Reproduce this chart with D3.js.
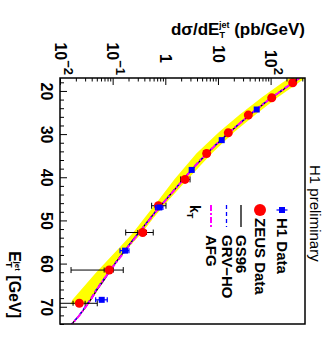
<!DOCTYPE html>
<html>
<head>
<meta charset="utf-8">
<script src="https://cdn.jsdelivr.net/npm/d3@7"></script>
<style>
  body { margin: 0; background: #fff; }
  text { font-family: "Liberation Sans", Arial, sans-serif; fill: #000; }
</style>
</head>
<body>
<div id="chart"></div>
<script>
// E_T grid of the theory curves (GeV)
const curveEt = [17, 18, 20, 22, 24, 26, 28, 30, 32, 34, 36, 38, 40, 42, 44, 46, 48, 50, 52, 54, 56, 58, 60, 62, 64, 66, 68, 70, 72, 74];
const gs96 = [360, 272, 160, 94, 58, 36.5, 23.5, 15.2, 10.1, 6.85, 4.75, 3.3, 2.4, 1.73, 1.25, 0.9, 0.65, 0.48, 0.355, 0.262, 0.195, 0.147, 0.111, 0.086, 0.067, 0.051, 0.040, 0.031, 0.0233, 0.0168];
const grvHo = [350, 265, 155, 91, 56.5, 35.6, 23.0, 14.8, 9.8, 6.7, 4.6, 3.25, 2.36, 1.71, 1.24, 0.90, 0.65, 0.48, 0.357, 0.265, 0.197, 0.149, 0.110, 0.083, 0.064, 0.049, 0.039, 0.030, 0.023, 0.0167];
const afg = [355, 269, 158, 93, 57.5, 36.3, 23.4, 15.1, 10.0, 6.8, 4.7, 3.3, 2.4, 1.74, 1.26, 0.91, 0.66, 0.49, 0.363, 0.269, 0.20, 0.151, 0.112, 0.085, 0.065, 0.050, 0.040, 0.031, 0.0234, 0.017];

// yellow uncertainty band
const bandEt = [17, 18.1, 21.5, 25.5, 29.5, 34.5, 40.5, 45.3, 49.5, 53, 56.3, 62, 68.3, 69.4];
const bandLo = [229, 166, 67.6, 25.7, 10.5, 3.89, 1.48, 0.741, 0.398, 0.240, 0.135, 0.049, 0.0174, 0.0158];
const bandHi = [457, 339, 135, 51.3, 20.4, 7.59, 2.63, 1.15, 0.589, 0.355, 0.20, 0.085, 0.040, 0.0355];

// ZEUS data
const zeusEt = [18.1, 21.6, 25.6, 29.7, 34.5, 40.5, 46.6, 52.8, 61.5, 69.2];
const zeusVal = [263, 105, 37.7, 15.7, 6.1, 2.37, 0.74, 0.372, 0.086, 0.0233];
const zeusStatLo = [258, 103, 37, 15.3, 5.9, 2.25, 0.68, 0.30, 0.069, 0.0177];
const zeusStatHi = [268, 107, 38.4, 16.1, 6.3, 2.5, 0.80, 0.44, 0.103, 0.030];
const zeusTotLo = [245, 97, 34.5, 14.2, 5.4, 1.96, 0.55, 0.177, 0.0162, 0.004];
const zeusTotHi = [281, 113, 41, 17.2, 6.8, 2.95, 1.03, 0.59, 0.159, 0.051];

// H1 data
const h1Et = [24.3, 31.4, 38.3, 47.0, 57.0, 68.4];
const h1Val = [54.5, 11.8, 3.17, 0.77, 0.172, 0.062];
const h1Lo = [51, 11.0, 2.9, 0.65, 0.138, 0.0476];
const h1Hi = [58, 12.6, 3.45, 0.9, 0.204, 0.079];

// axis ticks
const etMajor = [20, 30, 40, 50, 60, 70];
const etMinor = [18, 22, 24, 26, 28, 32, 34, 36, 38, 42, 44, 46, 48, 52, 54, 56, 58, 62, 64, 66, 68, 72, 74];
const sigMajor = [0.01, 0.1, 1, 10, 100];
const sigLabels = [['10', '\u22122'], ['10', '\u22121'], ['1', ''], ['10', ''], ['10', '2']];
const sigMinor = [0.02, 0.03, 0.04, 0.05, 0.06, 0.07, 0.08, 0.09, 0.2, 0.3, 0.4, 0.5, 0.6, 0.7, 0.8, 0.9,
  2, 3, 4, 5, 6, 7, 8, 9, 20, 30, 40, 50, 60, 70, 80, 90, 200, 300, 400];

const legendNames = ['H1 Data', 'ZEUS Data', 'GS96', 'GRV\u2212HO', 'AFG'];

const W = 334, H = 338;
const frame = { left: 60, right: 305, top: 78, bottom: 324 };

const svg = d3.select('#chart').append('svg')
  .attr('width', W).attr('height', H);

// rotated plot: E_T runs down, cross section runs right
const y = d3.scaleLinear().domain([17, 74]).range([frame.top, frame.bottom]);
const x = d3.scaleLog().domain([0.01, 450]).range([frame.left, frame.right]);

svg.append('defs').append('clipPath').attr('id', 'clip')
  .append('rect')
  .attr('x', frame.left).attr('y', frame.top)
  .attr('width', frame.right - frame.left).attr('height', frame.bottom - frame.top);

const plot = svg.append('g').attr('clip-path', 'url(#clip)');

// band
const band = bandEt.map((e, i) => ({ e, lo: bandLo[i], hi: bandHi[i] }));
plot.append('path')
  .datum(band)
  .attr('fill', '#ffff00')
  .attr('d', d3.area().y(d => y(d.e)).x0(d => x(d.lo)).x1(d => x(d.hi)));

// theory curves
const curves = [
  { vals: gs96, color: '#000', width: 1.3, dash: null },
  { vals: grvHo, color: '#0000ff', width: 1.3, dash: '4,3' },
  { vals: afg, color: '#ff00ff', width: 2, dash: '6,2,2,2' }
];
const line = d3.line().x(d => x(d[1])).y(d => y(d[0]));
curves.forEach(c => {
  plot.append('path')
    .datum(curveEt.map((e, i) => [e, c.vals[i]]))
    .attr('fill', 'none')
    .attr('stroke', c.color)
    .attr('stroke-width', c.width)
    .attr('stroke-dasharray', c.dash)
    .attr('d', line);
});

// ZEUS error bars
const zeus = zeusEt.map((e, i) => ({
  e, v: zeusVal[i], sl: zeusStatLo[i], sh: zeusStatHi[i], tl: zeusTotLo[i], th: zeusTotHi[i]
}));
const zg = plot.append('g').attr('stroke', '#000').attr('stroke-width', 1);
zg.selectAll('.tot').data(zeus).join('line')
  .attr('x1', d => x(d.tl)).attr('x2', d => x(d.th))
  .attr('y1', d => y(d.e)).attr('y2', d => y(d.e));
[['tl', 3], ['th', 3], ['sl', 2.5], ['sh', 2.5]].forEach(([k, h]) => {
  zg.selectAll('.cap-' + k).data(zeus).join('line')
    .attr('class', 'cap-' + k)
    .attr('x1', d => x(d[k])).attr('x2', d => x(d[k]))
    .attr('y1', d => y(d.e) - h).attr('y2', d => y(d.e) + h);
});

// ZEUS points
plot.append('g').selectAll('circle').data(zeus).join('circle')
  .attr('cx', d => x(d.v)).attr('cy', d => y(d.e)).attr('r', 4.5)
  .attr('fill', '#ff0000');

// H1 points
const h1 = h1Et.map((e, i) => ({ e, v: h1Val[i], lo: h1Lo[i], hi: h1Hi[i] }));
const hg = plot.append('g').attr('stroke', '#0000ff').attr('stroke-width', 1.2);
hg.selectAll('.bar').data(h1).join('line')
  .attr('class', 'bar')
  .attr('x1', d => x(d.lo)).attr('x2', d => x(d.hi))
  .attr('y1', d => y(d.e)).attr('y2', d => y(d.e));
['lo', 'hi'].forEach(k => {
  hg.selectAll('.cap-' + k).data(h1).join('line')
    .attr('class', 'cap-' + k)
    .attr('x1', d => x(d[k])).attr('x2', d => x(d[k]))
    .attr('y1', d => y(d.e) - 2.5).attr('y2', d => y(d.e) + 2.5);
});
plot.append('g').selectAll('rect').data(h1).join('rect')
  .attr('x', d => x(d.v) - 3).attr('y', d => y(d.e) - 3)
  .attr('width', 6).attr('height', 6)
  .attr('fill', '#0000ff');

// axes
const leftAxis = svg.append('g')
  .attr('transform', `translate(${frame.left},0)`)
  .call(d3.axisLeft(y).tickValues(etMajor).tickSize(-7).tickFormat(d3.format('d')));
svg.append('g')
  .attr('transform', `translate(${frame.left},0)`)
  .call(d3.axisLeft(y).tickValues(etMinor).tickSize(-4).tickFormat(''));

const topAxis = svg.append('g')
  .attr('transform', `translate(0,${frame.top})`)
  .call(d3.axisTop(x).tickValues(sigMajor).tickSize(-7).tickFormat(''));
svg.append('g')
  .attr('transform', `translate(0,${frame.top})`)
  .call(d3.axisTop(x).tickValues(sigMinor).tickSize(-3.5).tickFormat(''));

svg.selectAll('.domain').remove();
svg.selectAll('.tick line').attr('stroke', '#000').attr('stroke-width', 1);

leftAxis.selectAll('.tick text')
  .attr('x', 0).attr('dy', null)
  .attr('transform', 'translate(-19,0) rotate(90)')
  .attr('text-anchor', 'middle')
  .style('font-size', '16px').style('font-weight', 'bold');

topAxis.selectAll('.tick').each(function (d, i) {
  const [base, exp] = sigLabels[i];
  const t = d3.select(this).select('text')
    .attr('y', null).attr('dy', null)
    .attr('transform', `translate(-5.7,${exp ? -3 : -15}) rotate(90)`)
    .attr('text-anchor', 'end')
    .style('font-size', '16px').style('font-weight', 'bold')
    .text(null);
  t.append('tspan').text(base);
  if (exp) t.append('tspan').attr('dy', -9).style('font-size', '13px').text(exp);
});

// frame
svg.append('rect')
  .attr('x', frame.left).attr('y', frame.top)
  .attr('width', frame.right - frame.left).attr('height', frame.bottom - frame.top)
  .attr('fill', 'none').attr('stroke', '#000').attr('stroke-width', 1.5);

// axis titles
const sigTitle = svg.append('text')
  .attr('x', frame.right).attr('y', 35)
  .attr('text-anchor', 'end')
  .style('font-size', '17px').style('font-weight', 'bold');
sigTitle.append('tspan').text('d\u03c3/dE');
sigTitle.append('tspan').attr('dy', 3).style('font-size', '9px').text('T');
sigTitle.append('tspan').attr('dx', -6).attr('dy', -10).style('font-size', '9px').text('jet');
sigTitle.append('tspan').attr('dy', 7).text(' (pb/GeV)');

const etTitle = svg.append('text')
  .attr('transform', 'translate(9,318) rotate(90)')
  .attr('text-anchor', 'end')
  .style('font-size', '16px').style('font-weight', 'bold');
etTitle.append('tspan').text('E');
etTitle.append('tspan').attr('dy', 3).style('font-size', '9px').text('T');
etTitle.append('tspan').attr('dx', -6).attr('dy', -9).style('font-size', '8px').text('jet');
etTitle.append('tspan').attr('dy', 6).text(' [GeV]');

svg.append('text')
  .attr('transform', 'translate(310,165) rotate(90)')
  .style('font-size', '15px')
  .text('H1 preliminary');

// legend
const legX = [282, 260, 241, 226.5, 211];
const legTextY = [218, 218, 235, 235, 235];
const lg = svg.append('g');
legendNames.forEach((name, i) => {
  lg.append('text')
    .attr('transform', `translate(${legX[i] - 5},${legTextY[i]}) rotate(90)`)
    .style('font-size', '15px').style('font-weight', 'bold')
    .text(name);
});
lg.append('line').attr('x1', legX[0] - 5.5).attr('x2', legX[0] + 5.5).attr('y1', 210).attr('y2', 210)
  .attr('stroke', '#0000ff').attr('stroke-width', 1.2);
lg.append('rect').attr('x', legX[0] - 3).attr('y', 207).attr('width', 6).attr('height', 6).attr('fill', '#0000ff');
lg.append('circle').attr('cx', legX[1]).attr('cy', 210).attr('r', 6).attr('fill', '#ff0000');
curves.forEach((c, i) => {
  lg.append('line')
    .attr('x1', legX[i + 2]).attr('x2', legX[i + 2])
    .attr('y1', 205).attr('y2', 227)
    .attr('stroke', c.color).attr('stroke-width', c.width)
    .attr('stroke-dasharray', c.dash);
});
const kt = svg.append('text')
  .attr('transform', 'translate(190,205) rotate(90)')
  .style('font-size', '14px').style('font-weight', 'bold');
kt.append('tspan').text('k');
kt.append('tspan').attr('dy', 3).style('font-size', '9px').text('T');
</script>
</body>
</html>
